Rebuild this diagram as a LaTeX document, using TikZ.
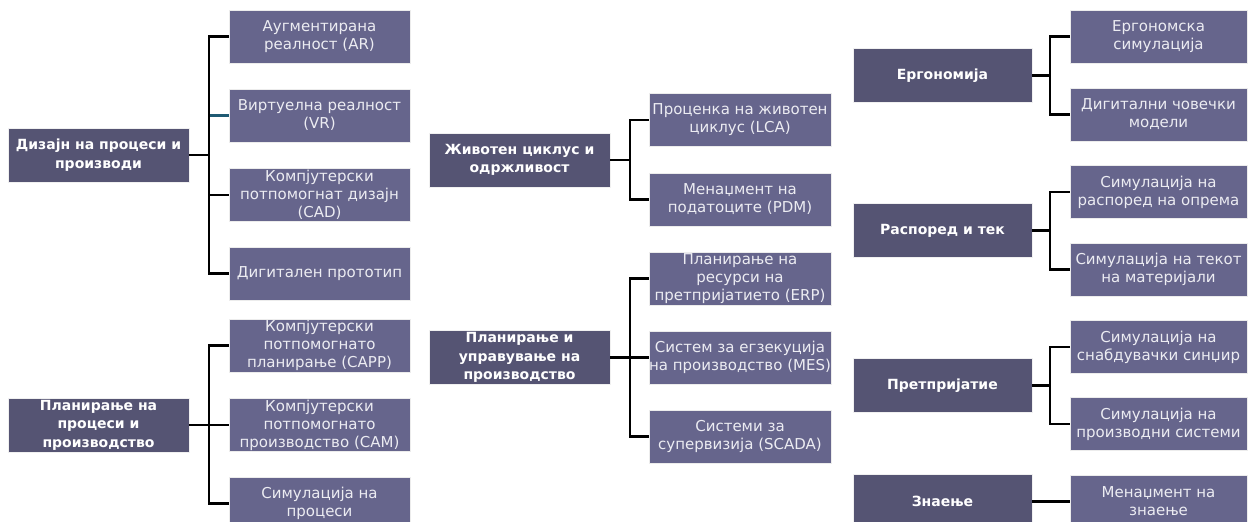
\documentclass[tikz,border=0pt]{standalone}
\usepackage{fontspec}
\setmainfont{DejaVu Sans}
\definecolor{parentfill}{RGB}{85,84,115}
\definecolor{childfill}{RGB}{102,101,140}
\definecolor{childtext}{RGB}{236,236,242}
\definecolor{tealline}{RGB}{31,90,115}
\tikzset{
  parentbox/.style={fill=parentfill, draw=white!88!gray, line width=0.8pt, text=white,
    minimum height=54pt, inner sep=0pt, align=center,
    font=\fontsize{14}{18.5}\selectfont\bfseries},
  childbox/.style={fill=childfill, draw=white!85!gray, line width=0.8pt, text=childtext,
    minimum height=53pt, inner sep=0pt, align=center,
    font=\fontsize{15}{18}\selectfont},
  conn/.style={line width=2.5pt, black},
}
\begin{document}
\begin{tikzpicture}[x=1pt,y=-1pt]
\useasboundingbox (0,0) rectangle (1254,522);
% bus coordinates
\coordinate (bL) at (209,0);
\coordinate (bM) at (630,0);
\coordinate (bR) at (1050,0);

% ---- left column ----
\node[parentbox, minimum width=181pt] (p1) at (98.5,155) {Дизајн на процеси и\\производи};
\node[childbox, minimum width=181pt] (c11) at (319.5,36.5) {Аугментирана\\реалност (AR)};
\node[childbox, minimum width=181pt] (c12) at (319.5,115.5) {Виртуелна реалност\\(VR)};
\node[childbox, minimum width=181pt] (c13) at (319.5,195) {Компјутерски\\потпомогнат дизајн\\(CAD)};
\node[childbox, minimum width=181pt] (c14) at (319.5,273.5) {Дигитален прототип};

\node[parentbox, minimum width=181pt] (p2) at (98.5,425) {Планирање на\\процеси и\\производство};
\node[childbox, minimum width=181pt] (c21) at (319.5,345.5) {Компјутерски\\потпомогнато\\планирање (CAPP)};
\node[childbox, minimum width=181pt] (c22) at (319.5,425) {Компјутерски\\потпомогнато\\производство (CAM)};
\node[childbox, minimum width=181pt] (c23) at (319.5,503.5) {Симулација на\\процеси};

% ---- middle column ----
\node[parentbox, minimum width=181pt] (p3) at (519.5,160) {Животен циклус и\\одржливост};
\node[childbox, minimum width=182pt] (c31) at (740,120) {Проценка на животен\\циклус (LCA)};
\node[childbox, minimum width=182pt] (c32) at (740,199.5) {Менаџмент на\\податоците (PDM)};

\node[parentbox, minimum width=181pt] (p4) at (519.5,357.5) {Планирање и\\управување на\\производство};
\node[childbox, minimum width=182pt] (c41) at (740,278.5) {Планирање на\\ресурси на\\претпријатието (ERP)};
\node[childbox, minimum width=182pt] (c42) at (740,357.5) {Систем за егзекуција\\на производство (MES)};
\node[childbox, minimum width=182pt] (c43) at (740,436.5) {Системи за\\супервизија (SCADA)};

% ---- right column ----
\node[parentbox, minimum width=179pt] (p5) at (942.5,75.5) {Ергономија};
\node[childbox, minimum width=177pt] (c51) at (1158.5,36.5) {Ергономска\\симулација};
\node[childbox, minimum width=177pt] (c52) at (1158.5,114.5) {Дигитални човечки\\модели};

\node[parentbox, minimum width=179pt] (p6) at (942.5,230.5) {Распоред и тек};
\node[childbox, minimum width=177pt] (c61) at (1158.5,192) {Симулација на\\распоред на опрема};
\node[childbox, minimum width=177pt] (c62) at (1158.5,269.5) {Симулација на текот\\на материјали};

\node[parentbox, minimum width=179pt] (p7) at (942.5,385.5) {Претпријатие};
\node[childbox, minimum width=177pt] (c71) at (1158.5,347) {Симулација на\\снабдувачки синџир};
\node[childbox, minimum width=177pt] (c72) at (1158.5,424) {Симулација на\\производни системи};

\node[parentbox, minimum width=179pt] (p8) at (942.5,501.5) {Знаење};
\node[childbox, minimum width=177pt] (c81) at (1158.5,501.5) {Менаџмент на\\знаење};

% ---- connectors ----
% left 1
\draw[conn] (p1.east) -- (p1.east -| bL);
\draw[conn] (c11.west) -- (c11.west -| bL) -- (c14.west -| bL) -- (c14.west);
\draw[conn, tealline] (c12.west) -- ([xshift=1.25pt]c12.west -| bL);
\draw[conn] (c13.west) -- (c13.west -| bL);
% left 2
\draw[conn] (p2.east) -- (p2.east -| bL);
\draw[conn] (c21.west) -- (c21.west -| bL) -- (c23.west -| bL) -- (c23.west);
\draw[conn] (c22.west) -- (c22.west -| bL);
% middle 1
\draw[conn] (p3.east) -- (p3.east -| bM);
\draw[conn] (c31.west) -- (c31.west -| bM) -- (c32.west -| bM) -- (c32.west);
% middle 2
\draw[conn] (p4.east) -- (p4.east -| bM);
\draw[conn] (c41.west) -- (c41.west -| bM) -- (c43.west -| bM) -- (c43.west);
\draw[conn] (c42.west) -- (c42.west -| bM);
% right
\draw[conn] (p5.east) -- (p5.east -| bR);
\draw[conn] (c51.west) -- (c51.west -| bR) -- (c52.west -| bR) -- (c52.west);
\draw[conn] (p6.east) -- (p6.east -| bR);
\draw[conn] (c61.west) -- (c61.west -| bR) -- (c62.west -| bR) -- (c62.west);
\draw[conn] (p7.east) -- (p7.east -| bR);
\draw[conn] (c71.west) -- (c71.west -| bR) -- (c72.west -| bR) -- (c72.west);
\draw[conn] (p8.east) -- (c81.west);
\end{tikzpicture}
\end{document}
